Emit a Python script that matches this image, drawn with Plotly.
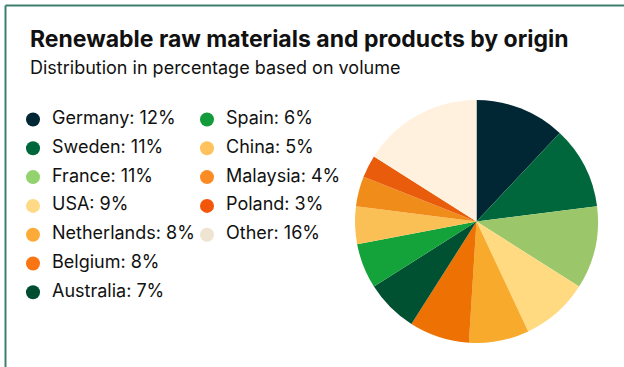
import plotly.graph_objects as go

countries = ["Germany", "Sweden", "France", "USA", "Netherlands", "Belgium",
             "Australia", "Spain", "China", "Malaysia", "Poland", "Other"]
shares = [12, 11, 11, 9, 8, 8, 7, 6, 5, 4, 3, 16]
colors = ["#002733", "#00673d", "#9bc76a", "#ffda80", "#f7aa2c", "#ee7203",
          "#005032", "#14a23a", "#fbc055", "#f08c19", "#e85c0c", "#fff1de"]
legend_colors = ["#002733", "#00673d", "#92d36e", "#ffda86", "#fdab38", "#fa7413",
                 "#004d32", "#139a3a", "#fec35e", "#fb8c25", "#f25609", "#efe3d1"]

title = "Renewable raw materials and products by origin"
subtitle = "Distribution in percentage based on volume"

W, H = 624, 367
FONT = "Inter, Roboto, sans-serif"

fig = go.Figure()

fig.add_trace(go.Pie(
    labels=countries, values=shares, sort=False, direction="clockwise",
    rotation=0, marker=dict(colors=colors, line=dict(width=0)),
    textinfo="none", hoverinfo="label+percent", showlegend=False,
    domain=dict(x=[355 / W, 598 / W], y=[(H - 343) / H, (H - 100) / H]),
))

# legend drawn as markers + labels, two columns (column-major)
rows_per_col = 7
col_x = [33, 207]
row_y0, row_step = 119.5, 28.8
lx = [col_x[i // rows_per_col] for i in range(len(countries))]
ly = [row_y0 + (i % rows_per_col) * row_step for i in range(len(countries))]
labels = [f"{c}: {v}%" for c, v in zip(countries, shares)]

fig.add_trace(go.Scatter(
    x=lx, y=ly, mode="markers", xaxis="x", yaxis="y",
    marker=dict(size=14, color=legend_colors, line=dict(width=0)),
    hoverinfo="skip", showlegend=False,
))
fig.add_trace(go.Scatter(
    x=[x + 19 for x in lx], y=ly, mode="text", text=labels,
    textposition="middle right", xaxis="x", yaxis="y",
    textfont=dict(family=FONT, size=18, color="#111111"),
    hoverinfo="skip", showlegend=False,
))

fig.update_layout(
    width=W, height=H, margin=dict(l=0, r=0, t=0, b=0),
    paper_bgcolor="white", plot_bgcolor="rgba(0,0,0,0)",
    xaxis=dict(range=[0, W], visible=False, fixedrange=True),
    yaxis=dict(range=[H, 0], visible=False, fixedrange=True),
    shapes=[
        dict(type="line", xref="paper", yref="paper", x0=5.5 / W, x1=1, y0=1 - 5.5 / H, y1=1 - 5.5 / H,
             line=dict(color="#3f7f6f", width=2)),
        dict(type="line", xref="paper", yref="paper", x0=5.5 / W, x1=5.5 / W, y0=0, y1=1 - 5.5 / H,
             line=dict(color="#3f7f6f", width=2)),
    ],
    annotations=[
        dict(text=f"<b>{title}</b>", xref="paper", yref="paper", x=28 / W, y=1 - 39 / H,
             xanchor="left", yanchor="middle", showarrow=False,
             font=dict(family=FONT, size=23, color="#111111")),
        dict(text=subtitle, xref="paper", yref="paper", x=28 / W, y=1 - 68 / H,
             xanchor="left", yanchor="middle", showarrow=False,
             font=dict(family=FONT, size=18, color="#111111")),
    ],
)

fig.write_html("out.html")
